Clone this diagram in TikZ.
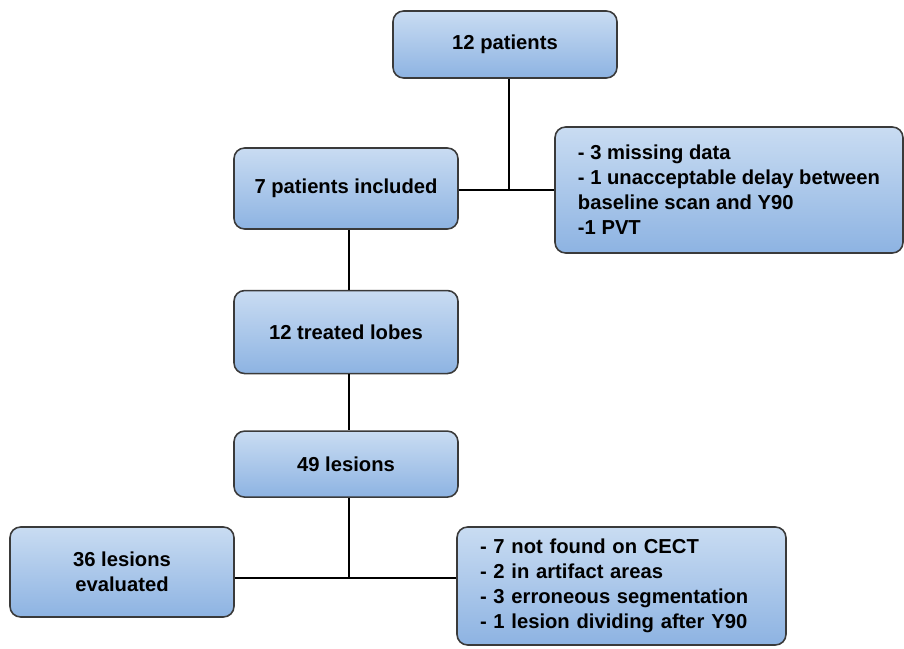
\documentclass[tikz,border=0pt]{standalone}
\usepackage{fontspec}
\setmainfont{Liberation Sans}
\usepackage{xcolor}
\usetikzlibrary{positioning}

\definecolor{boxtop}{HTML}{C9DCF2}
\definecolor{boxbot}{HTML}{8DB3E2}
\definecolor{boxline}{HTML}{3A3A3A}

\begin{document}
\begin{tikzpicture}[x=0.02cm, y=-0.02cm,
  box/.style={rectangle, rounded corners=6pt, draw=boxline, line width=0.9pt,
    top color=boxtop, bottom color=boxbot, minimum width=4.48cm,
    align=center, font=\fontsize{11.5}{14.2}\selectfont\bfseries},
  note/.style={box, align=left},
  link/.style={line width=0.8pt, black}
]
\useasboundingbox (0,0) rectangle (904,649);

\node[box, minimum height=1.34cm] (pat) at (505,44.5) {12 patients};
\node[box, minimum height=1.62cm] (incl) at (346,188.5) {7 patients included};
\node[note, minimum width=6.96cm, minimum height=2.52cm] (excl1) at (729,190)
  {- 3 missing data\\- 1 unacceptable delay between\\baseline scan and Y90\\-1 PVT};
\node[box, minimum height=1.66cm, below=1.2cm of incl] (lobes) {12 treated lobes};
\node[box, minimum height=1.32cm, below=1.12cm of lobes] (lesions) {49 lesions};
\node[box, minimum height=1.8cm] (evald) at (122,572) {36 lesions\\evaluated};
\node[note, minimum width=6.58cm, minimum height=2.36cm, text width=5.66cm, inner xsep=0.46cm] (excl2) at (621.5,586)
  {- 7 not found on CECT\\- 2 in artifact areas\\- 3 erroneous segmentation\\- 1 lesion dividing after Y90};

\coordinate (j1) at (509,190);
\coordinate (j2) at (349,578);

% connectors
\draw[link] (pat.south -| j1) -- (j1);
\draw[link] (incl.east |- j1) -- (excl1.west |- j1);
\draw[link] (incl.south -| j2) -- (lobes.north -| j2);
\draw[link] (lobes.south -| j2) -- (lesions.north -| j2);
\draw[link] (lesions.south -| j2) -- (j2);
\draw[link] (evald.east |- j2) -- (excl2.west |- j2);
\end{tikzpicture}
\end{document}
